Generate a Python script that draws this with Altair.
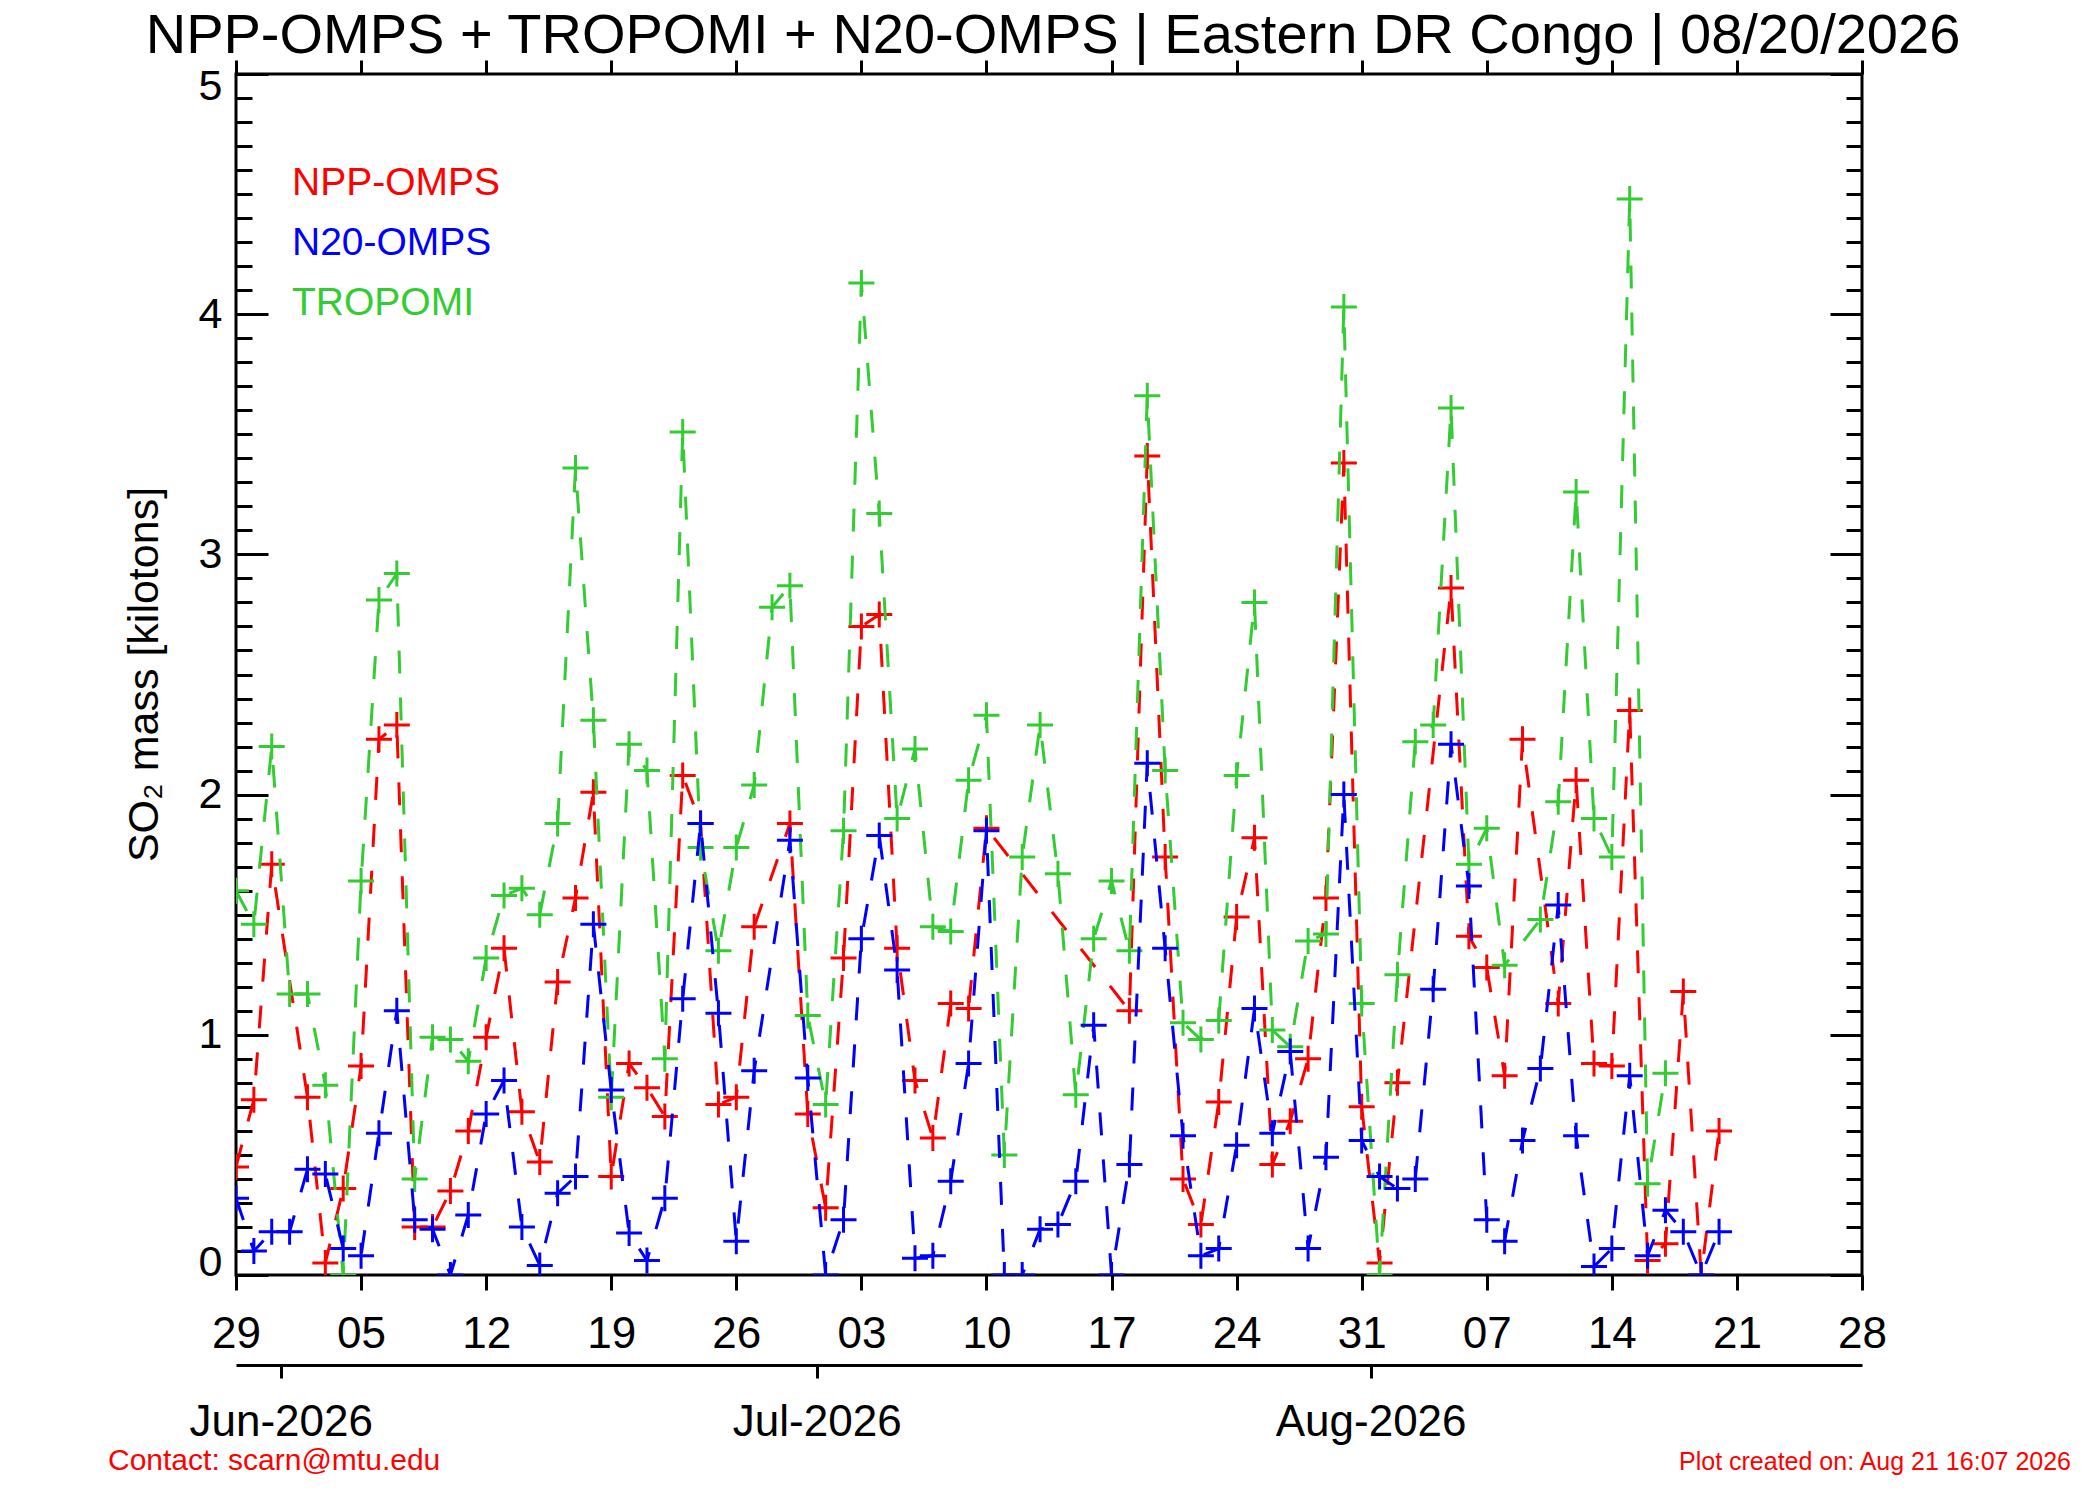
import json
import altair as alt
import pandas as pd

# ---------------- data ----------------
# day index: 0 = 29 May 2026 (noon), one value per day
npp_omps = [0.45, 0.73, 1.71, None, 0.74, 0.05, 0.36, 0.87, 2.23, 2.29,
            0.20, 0.20, 0.35, 0.60, 0.99, 1.36, 0.68, 0.47, 1.22, 1.57,
            2.01, 0.41, 0.88, 0.78, 0.66, 2.08, 1.88, 0.71, 0.74, 1.45,
            None, 1.88, 0.67, 0.28, 1.32, 2.70, 2.75, 1.36, 0.81, 0.57,
            1.13, 1.11, 1.86, None, None, None, None, None, None, None,
            1.10, 3.41, 1.74, 0.40, 0.21, 0.72, 1.49, 1.82, 0.46, 0.64,
            0.90, 1.57, 3.38, 0.70, 0.05, 0.80, None, None, 2.86, 1.41,
            1.28, 0.83, 2.23, None, 1.13, 2.06, 0.88, 0.87, 2.35, 0.06,
            0.13, 1.18, 0.00, 0.60]

n20_omps = [0.32, 0.10, 0.18, 0.18, 0.44, 0.42, 0.11, 0.08, 0.59, 1.10,
            0.23, 0.19, 0.00, 0.25, 0.67, 0.81, 0.20, 0.04, 0.34, 0.41,
            1.46, 0.77, 0.175, 0.06, 0.32, 1.15, 1.88, 1.09, 0.14, 0.85,
            None, 1.81, 0.82, 0.00, 0.23, 1.40, 1.83, 1.27, 0.07, 0.08,
            0.39, 0.88, 1.85, 0.00, 0.00, 0.19, 0.21, 0.39, 1.04, 0.00,
            0.46, 2.13, 1.36, 0.58, 0.08, 0.11, 0.54, 1.11, 0.59, 0.93,
            0.11, 0.49, 2.00, 0.56, 0.41, 0.36, 0.40, 1.19, 2.21, 1.62,
            0.23, 0.14, 0.56, 0.86, 1.54, 0.58, 0.035, 0.11, 0.83, 0.08,
            0.27, 0.18, 0.00, 0.18]

tropomi = [1.60, 1.46, 2.20, 1.17, 1.17, 0.79, 0.00, 1.64, 2.81, 2.92,
           0.40, 0.99, 0.98, 0.89, 1.32, 1.58, 1.61, 1.50, 1.88, 3.36,
           2.31, 0.74, 2.21, 2.10, 0.90, 3.51, 1.78, 1.35, 1.78, 2.04,
           2.78, 2.87, 1.08, 0.71, 1.85, 4.13, 3.17, 1.90, 2.19, 1.45,
           1.43, 2.06, 2.33, 0.50, 1.74, 2.29, 1.67, 0.75, 1.40, 1.64,
           1.35, 3.66, 2.10, 1.05, 0.98, 1.06, 2.08, 2.80, 1.02, 0.95,
           1.39, 1.42, 4.03, 1.13, 0.00, 1.25, 2.22, 2.29, 3.61, 1.71,
           1.86, 1.29, None, 1.48, 1.97, 3.26, 1.90, 1.74, 4.48, 0.38,
           0.84]

series_names = ["NPP-OMPS", "N20-OMPS", "TROPOMI"]
series_colors = ["#ff0000", "#0000ff", "#33cc33"]

day_tick_values = [0, 7, 14, 21, 28, 35, 42, 49, 56, 63, 70, 77, 84, 91]
day_tick_labels = ["29", "05", "12", "19", "26", "03", "10", "17", "24",
                   "31", "07", "14", "21", "28"]
month_tick_values = [2.5, 32.5, 63.5]
month_tick_labels = ["Jun-2026", "Jul-2026", "Aug-2026"]
y_major_ticks = [0, 1, 2, 3, 4, 5]
y_minor_ticks = [round(i / 10, 1) for i in range(51)]

title_text = "NPP-OMPS + TROPOMI + N20-OMPS | Eastern DR Congo | 08/20/2026"
contact_text = "Contact: scarn@mtu.edu"
created_text = "Plot created on: Aug 21 16:07 2026"

# ---------------- build table ----------------
rows = []
for name, vals in zip(series_names, [npp_omps, n20_omps, tropomi]):
    for d, v in enumerate(vals):
        if v is not None:
            rows.append({"series": name, "day": d, "value": v})
df = pd.DataFrame(rows)

FONT = "Liberation Sans"
W, H = 1626, 1201
CROSS = "M-1,0L1,0M0,-1L0,1"

xscale = alt.Scale(domain=[0, 91], nice=False, zero=False)
yscale = alt.Scale(domain=[0, 5], nice=False, zero=False)

common = dict(grid=False, title=None, tickColor="black", tickWidth=3,
              labelColor="black", labelFont=FONT)

ax_days = alt.Axis(orient="bottom", values=day_tick_values,
                   labelExpr=json.dumps(day_tick_labels) + "[round(datum.value/7)]",
                   tickSize=15, domain=False, labelFontSize=44, labelPadding=57,
                   labelBaseline="alphabetic", labelOverlap=False, labelFlush=False,
                   labelLimit=0, **common)
ax_month = alt.Axis(orient="bottom", offset=90, values=month_tick_values,
                    labelExpr=json.dumps(month_tick_labels) + "[indexof("
                    + json.dumps(month_tick_values) + ", datum.value)]",
                    tickSize=13, domain=True, domainColor="black", domainWidth=3,
                    labelFontSize=44, labelPadding=57, labelBaseline="alphabetic",
                    labelOverlap=False, labelFlush=False, labelLimit=0, **common)
ax_top = alt.Axis(orient="top", values=day_tick_values, labels=False,
                  tickSize=14, domain=False, **common)

ax_left = alt.Axis(orient="left", values=y_major_ticks, ticks=False, tickSize=0,
                   domain=False, grid=False, labelFontSize=43, labelPadding=14,
                   labelFlush=True, labelFlushOffset=9, labelColor="black",
                   labelFont=FONT, labelOverlap=False, labelLimit=0,
                   title="SO\u2082 mass [kilotons]", titleFont=FONT, titleFontSize=43,
                   titleFontWeight="normal", titleColor="black", titleX=-79,
                   titleY=600, titleAngle=270, titleAlign="center",
                   titleBaseline="alphabetic")
ax_left_major = alt.Axis(orient="right", offset=-W, values=y_major_ticks, labels=False,
                         tickSize=32, domain=False, **common)
ax_left_minor = alt.Axis(orient="right", offset=-W, values=y_minor_ticks, labels=False,
                         tickSize=16, domain=False, **common)
ax_right_major = alt.Axis(orient="left", offset=-W, values=y_major_ticks, labels=False,
                          tickSize=32, domain=False, **common)
ax_right_minor = alt.Axis(orient="left", offset=-W, values=y_minor_ticks, labels=False,
                          tickSize=16, domain=False, **common)

axes_plan = {
    "NPP-OMPS": [(ax_days, ax_left), (ax_top, ax_left_major)],
    "TROPOMI": [(ax_month, ax_left_minor), (None, ax_right_major)],
    "N20-OMPS": [(None, ax_right_minor), (None, None)],
}

layers = []
for name in ["NPP-OMPS", "TROPOMI", "N20-OMPS"]:
    color = series_colors[series_names.index(name)]
    (lx, ly), (px, py) = axes_plan[name]
    base = alt.Chart(df).transform_filter(alt.datum.series == name)
    line = base.mark_line(color=color, strokeWidth=3, strokeDash=[23, 24],
                          clip=True).encode(
        x=alt.X("day:Q", scale=xscale, axis=lx),
        y=alt.Y("value:Q", scale=yscale, axis=ly),
        order="day:Q",
    )
    pts = base.mark_point(shape=CROSS, size=676, filled=False, strokeWidth=3,
                          color=color, opacity=1, clip=True).encode(
        x=alt.X("day:Q", scale=xscale, axis=px),
        y=alt.Y("value:Q", scale=yscale, axis=py),
    )
    layers += [line, pts]

# legend (text only, coloured)
for i, (name, color) in enumerate(zip(series_names, series_colors)):
    layers.append(
        alt.Chart(pd.DataFrame({"t": [name]})).mark_text(
            align="left", baseline="alphabetic", font=FONT, fontSize=39, color=color
        ).encode(text="t:N", x=alt.value(56), y=alt.value(121 + 60 * i))
    )

# chart title
layers.append(
    alt.Chart(pd.DataFrame({"t": [title_text]})).mark_text(
        align="center", baseline="alphabetic", font=FONT, fontSize=56, color="black"
    ).encode(text="t:N", x=alt.value(817), y=alt.value(-21))
)

# footer
layers.append(
    alt.Chart(pd.DataFrame({"t": [contact_text]})).mark_text(
        align="left", baseline="alphabetic", font=FONT, fontSize=30, color="#ff0000"
    ).encode(text="t:N", x=alt.value(-128), y=alt.value(1396))
)
layers.append(
    alt.Chart(pd.DataFrame({"t": [created_text]})).mark_text(
        align="right", baseline="alphabetic", font=FONT, fontSize=25, color="#ff0000"
    ).encode(text="t:N", x=alt.value(1835), y=alt.value(1396))
)

chart = alt.layer(*layers).resolve_axis(x="independent", y="independent").properties(
    width=W, height=H,
    autosize=alt.AutoSizeParams(type="none"),
    padding={"left": 228, "top": 66, "right": 222, "bottom": 208},
    background="white",
).configure_view(stroke="black", strokeWidth=3)

chart.save("out.html", embed_options={"renderer": "svg", "actions": False})
